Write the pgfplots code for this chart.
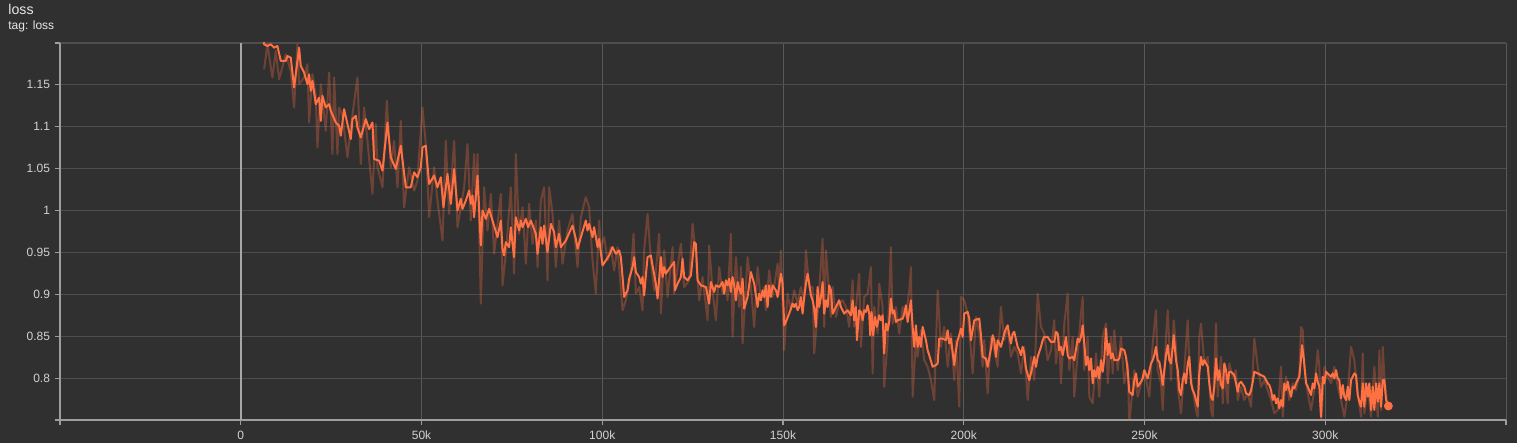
\documentclass[border=0pt]{standalone}
\usepackage{fontspec}
\setmainfont{Liberation Sans}
\usepackage{pgfplots}
\pgfplotsset{compat=1.18}
\definecolor{bg}{HTML}{303030}
\definecolor{hgrid}{HTML}{4D4D4D}
\definecolor{vgrid}{HTML}{595959}
\definecolor{axcol}{HTML}{9E9E9E}
\definecolor{zerocol}{HTML}{A6A6A6}
\definecolor{lbl}{HTML}{D2D2D2}
\definecolor{ttl}{HTML}{E8E8E8}
\definecolor{orng}{HTML}{FF7043}
\begin{document}
\begin{tikzpicture}
\path[use as bounding box, fill=bg] (-30pt,-11.5pt) rectangle (728.5pt,210pt);
\node[anchor=base west, inner sep=0pt, text=ttl, font=\fontsize{7.1}{8}\selectfont] at (-26pt,202.5pt) {loss};
\node[anchor=base west, inner sep=0pt, text=ttl, font=\fontsize{6}{7}\selectfont] at (-26pt,195.2pt) {tag: loss};
\begin{axis}[
  at={(0pt,0pt)}, anchor=south west,
  scale only axis, width=723pt, height=188.5pt,
  xmin=-50, xmax=350, ymin=0.75, ymax=1.2,
  axis x line*=bottom, axis y line*=left,
  axis line style={axcol, line width=0.8pt},
  xtick={-50,50,100,150,200,250,300,350},
  xticklabels={,50k,100k,150k,200k,250k,300k,},
  extra x ticks={0}, extra x tick labels={0},
  extra x tick style={grid=major, major grid style={zerocol, line width=0.8pt}, x grid style={zerocol, line width=0.8pt}},
  ytick={0.75,0.8,0.85,0.9,0.95,1,1.05,1.1,1.15,1.2},
  yticklabels={,0.8,0.85,0.9,0.95,1,1.05,1.1,1.15,},
  grid=major,
  x grid style={vgrid, line width=0.5pt},
  y grid style={hgrid, line width=0.6pt},
  tick align=outside, major tick length=2.5pt,
  tick style={axcol, line width=0.6pt},
  tick label style={font=\fontsize{6}{7}\selectfont, text=lbl},
  xticklabel style={anchor=north, inner sep=0pt},
  yticklabel style={anchor=east, inner sep=0pt},
  xticklabel shift=2.8pt, yticklabel shift=2.3pt,
  clip=true,
]
\addplot[orng, opacity=0.3, line width=1pt, line join=round] coordinates {
(6.46,1.1687) (7.38,1.1985) (8.76,1.1587) (9.68,1.1905) (10.61,1.1567) (12.45,1.1865) (13.83,1.1667) (14.76,1.1230) (15.68,1.1985) (16.14,1.1508)
(17.53,1.1587) (18.45,1.1746) (18.91,1.1051) (19.83,1.1627) (20.75,1.1389) (21.21,1.0754) (22.14,1.1508) (23.52,1.0952) (24.45,1.1647) (25.36,1.0675)
(25.83,1.1587) (26.75,1.0675) (27.21,1.1230) (28.13,1.1131) (29.52,1.0635) (30.44,1.0992) (32.28,1.1587) (33.20,1.0556) (34.13,1.1230) (35.05,1.0833)
(36.43,1.0199) (37.36,1.1032) (37.82,1.0516) (39.21,1.0278) (40.40,1.1310) (41.51,1.0516) (42.42,1.0833) (43.36,1.0278) (44.27,1.1071) (45.19,1.0040)
(46.57,1.0516) (47.96,1.0238) (48.89,1.0357) (49.34,1.0675) (50.27,1.1230) (51.19,1.0794) (52.11,0.9920) (53.49,1.0516) (54.42,1.0119) (55.81,0.9643)
(56.72,1.0833) (57.64,0.9960) (59.03,1.0833) (59.96,0.9801) (61.80,1.0278) (62.72,1.0794) (63.64,0.9881) (64.55,1.0675) (65.02,1.0119) (65.50,1.0675)
(66.41,0.8889) (67.32,1.0278) (68.26,0.9762) (69.18,1.0199) (70.09,0.9484) (71.03,0.9841) (71.94,1.0199) (72.41,0.9107) (73.33,0.9484) (74.71,1.0278)
(75.62,0.9246) (76.09,1.0675) (77.01,0.9722) (77.95,1.0040) (78.86,0.9365) (79.77,1.0080) (80.71,0.9603) (81.63,0.9881) (82.10,0.9325) (83.01,1.0119)
(83.92,1.0278) (84.86,0.9167) (85.31,1.0278) (86.25,0.9960) (87.16,0.9325) (88.07,0.9881) (89.01,0.9365) (90.40,0.9762) (91.78,0.9960) (93.16,0.9325)
(94.08,0.9920) (95.46,1.0159) (96.38,1.0040) (97.31,0.9405) (98.23,0.9008) (99.14,0.9881) (99.61,0.9563) (100.53,0.9682) (101.47,0.9405) (102.38,0.9563)
(103.29,0.9286) (104.23,0.9563) (105.62,0.8810) (106.53,0.8929) (107.91,0.9246) (108.66,0.9722) (109.30,0.9008) (110.21,0.9087) (111.15,0.8810) (111.59,0.9524)
(112.53,0.9960) (113.45,0.9405) (114.37,0.9048) (115.75,0.9722) (116.22,0.8770) (117.13,0.9524) (118.07,0.8968) (119.46,0.9563) (119.90,0.9008) (120.84,0.9325)
(121.75,0.9603) (122.66,0.9087) (124.05,0.9167) (124.98,0.9841) (125.90,0.9484) (126.81,0.8929) (127.75,0.9206) (129.14,0.8690) (129.58,0.9583) (130.52,0.9048)
(131.43,0.8690) (132.35,0.9325) (133.29,0.9008) (134.20,0.9087) (134.67,0.8929) (135.58,0.9722) (136.05,0.8492) (136.97,0.9444) (137.88,0.8849) (138.35,0.9325)
(138.82,0.8413) (139.73,0.9087) (140.20,0.9444) (141.12,0.9087) (142.03,0.8611) (142.97,0.9325) (143.88,0.8929) (144.80,0.9087) (145.27,0.8810) (146.18,0.9286)
(147.12,0.8968) (148.51,0.9365) (148.95,0.9008) (149.42,0.9524) (150.33,0.8333) (151.27,0.9008) (152.19,0.8810) (153.10,0.9048) (154.04,0.8889) (154.95,0.9087)
(155.87,0.8929) (156.34,0.9524) (157.25,0.9087) (158.19,0.9087) (158.63,0.8294) (159.57,0.8770) (160.96,0.9663) (161.40,0.8611) (161.87,0.9524) (162.78,0.9008)
(163.25,0.8730) (163.72,0.9087) (164.64,0.8730) (165.55,0.8889) (166.49,0.8929) (167.41,0.8849) (168.33,0.8611) (169.26,0.9167) (169.70,0.8611) (171.08,0.9246)
(171.55,0.8373) (172.47,0.8968) (173.41,0.9008) (174.32,0.9325) (174.79,0.8056) (175.24,0.8849) (176.18,0.8532) (176.62,0.9127) (177.56,0.8849) (178.00,0.7897)
(178.94,0.8452) (179.85,0.9563) (180.32,0.8651) (181.24,0.8849) (182.15,0.8532) (183.09,0.8849) (184.01,0.8730) (184.92,0.9048) (185.39,0.9325) (185.86,0.7778)
(186.77,0.8452) (187.24,0.8254) (188.16,0.8571) (189.07,0.8214) (190.01,0.8135) (190.92,0.7976) (191.84,0.7738) (192.78,0.9048) (193.69,0.8373) (194.61,0.8611)
(195.55,0.8135) (196.46,0.8532) (197.37,0.7976) (197.84,0.8452) (198.76,0.7659) (199.23,0.8968) (200.14,0.8929) (201.08,0.8770) (201.99,0.8333) (202.46,0.8056)
(203.38,0.8730) (204.29,0.8532) (205.23,0.8135) (205.67,0.8452) (206.61,0.7817) (207.53,0.8492) (208.44,0.8333) (209.38,0.8135) (210.29,0.8849) (211.21,0.8452)
(212.15,0.8611) (213.06,0.8254) (213.97,0.8373) (214.91,0.8294) (215.83,0.8056) (216.74,0.8373) (217.68,0.7738) (218.59,0.8254) (219.51,0.7976) (220.45,0.9008)
(221.36,0.8611) (222.27,0.8532) (223.19,0.8214) (224.13,0.8333) (225.04,0.8690) (225.51,0.8175) (226.42,0.8492) (226.89,0.7937) (227.81,0.8651) (228.75,0.9008)
(229.19,0.8095) (230.13,0.8492) (230.57,0.7778) (231.52,0.8294) (232.43,0.8770) (232.90,0.8968) (233.34,0.8095) (234.28,0.8492) (234.73,0.7778) (235.67,0.7698)
(236.58,0.8294) (237.49,0.7778) (238.43,0.8492) (239.35,0.8651) (239.82,0.7937) (240.73,0.8492) (241.20,0.8056) (241.64,0.8571) (242.58,0.8095) (243.50,0.8492)
(244.41,0.7937) (245.35,0.8175) (245.79,0.7450) (247.18,0.8095) (248.12,0.7778) (249.03,0.7937) (249.94,0.8095) (251.33,0.7778) (252.27,0.8413) (253.18,0.8810)
(253.65,0.8095) (254.57,0.7937) (255.04,0.7619) (255.95,0.8492) (256.42,0.8810) (257.33,0.7976) (258.08,0.8690) (258.72,0.8373) (259.19,0.7897) (260.10,0.7579)
(261.01,0.8095) (261.95,0.8690) (262.40,0.8175) (263.34,0.7857) (264.25,0.7619) (264.72,0.7539) (265.16,0.8492) (265.63,0.8651) (266.55,0.8175) (267.49,0.8254)
(268.40,0.7619) (268.87,0.7539) (269.78,0.8651) (270.25,0.7778) (271.17,0.8254) (271.64,0.7698) (272.08,0.8095) (273.02,0.7698) (273.46,0.8175) (274.38,0.8016)
(275.29,0.8095) (275.80,0.7738) (276.70,0.7897) (277.61,0.7738) (278.56,0.7817) (279.47,0.7659) (280.38,0.8472) (281.32,0.8135) (282.24,0.7897) (283.15,0.7976)
(284.09,0.7857) (285.00,0.7738) (285.92,0.7579) (286.86,0.7619) (287.77,0.8135) (288.24,0.7539) (289.15,0.8016) (290.07,0.7738) (291.01,0.7937) (291.92,0.7857)
(292.83,0.8056) (293.30,0.8611) (293.77,0.8571) (294.22,0.8135) (295.16,0.7817) (296.07,0.7619) (296.98,0.7857) (297.92,0.8333) (298.37,0.8135) (298.84,0.7450)
(299.75,0.8135) (300.69,0.8016) (301.60,0.7937) (302.51,0.8135) (303.45,0.7897) (304.37,0.7738) (305.28,0.7539) (306.22,0.7817) (307.13,0.8373) (308.04,0.8214)
(308.99,0.7817) (309.90,0.7539) (310.37,0.8294) (310.81,0.7579) (311.76,0.7897) (312.67,0.7539) (313.58,0.8135) (314.53,0.7539) (314.97,0.8333) (315.44,0.7619)
(315.91,0.8373) (316.35,0.8016) (317.28,0.7619)
};
\addplot[orng, line width=1pt, line join=round] coordinates {
(6.00,1.2100) (6.46,1.1985) (7.38,1.1964) (8.30,1.1985) (9.22,1.1944) (10.15,1.1964) (11.07,1.1786) (12.45,1.1786) (12.91,1.1845) (13.83,1.1825)
(14.76,1.1468) (15.22,1.1627) (16.14,1.1944) (16.60,1.1726) (17.53,1.1647) (18.45,1.1508) (18.91,1.1627) (19.37,1.1429) (19.83,1.1548) (20.75,1.1270)
(21.68,1.1349) (22.14,1.1071) (22.60,1.1369) (23.52,1.1230) (24.45,1.1270) (24.90,1.1190) (26.29,1.1051) (27.21,1.1012) (27.67,1.0893) (28.59,1.1210)
(29.52,1.1032) (30.44,1.0853) (30.90,1.1091) (31.82,1.1131) (32.28,1.0992) (33.20,1.0873) (34.59,1.1091) (35.51,1.0972) (36.43,1.1051) (36.89,1.0615)
(38.27,1.0595) (39.21,1.0476) (40.58,1.1051) (41.51,1.0635) (42.89,1.0496) (44.27,1.0774) (45.66,1.0278) (47.04,1.0278) (47.96,1.0456) (48.89,1.0397)
(49.81,1.0516) (50.27,1.0754) (51.19,1.0774) (52.11,1.0317) (53.49,1.0417) (54.42,1.0278) (55.34,1.0397) (56.08,1.0040) (57.19,1.0437) (58.11,1.0080)
(59.03,1.0496) (59.96,1.0000) (60.87,1.0139) (61.34,1.0020) (62.26,1.0119) (63.17,1.0238) (63.64,1.0080) (64.11,1.0179) (64.55,0.9920) (65.50,1.0417)
(66.41,0.9583) (66.88,1.0000) (67.79,0.9901) (68.71,1.0020) (69.64,0.9881) (71.03,0.9682) (71.94,0.9881) (72.41,0.9544) (72.86,0.9464) (73.33,0.9623)
(74.24,0.9563) (74.71,0.9801) (75.18,0.9603) (75.62,0.9444) (76.09,0.9920) (77.01,0.9762) (77.48,0.9881) (77.95,0.9801) (78.86,0.9901) (79.50,0.9801)
(80.24,0.9881) (81.63,0.9722) (82.10,0.9484) (83.01,0.9801) (83.48,0.9603) (83.92,0.9821) (84.86,0.9504) (85.78,0.9841) (86.69,0.9742) (87.16,0.9563)
(88.07,0.9722) (88.54,0.9563) (89.93,0.9643) (91.78,0.9821) (92.69,0.9663) (93.16,0.9544) (94.08,0.9682) (95.46,0.9881) (95.93,0.9762) (96.38,0.9841)
(97.31,0.9682) (97.76,0.9801) (98.70,0.9563) (99.14,0.9663) (100.08,0.9345) (101.00,0.9405) (101.91,0.9464) (102.85,0.9563) (103.76,0.9484) (104.68,0.9524)
(105.15,0.9444) (105.62,0.9206) (106.06,0.8968) (107.00,0.9048) (107.44,0.9187) (108.38,0.9325) (108.83,0.9444) (109.30,0.9266) (110.21,0.9206) (110.68,0.9127)
(111.15,0.9206) (111.59,0.8988) (112.06,0.9226) (112.53,0.9444) (113.45,0.9464) (113.91,0.9345) (114.83,0.9127) (115.30,0.8949) (116.22,0.9444) (116.68,0.9206)
(117.13,0.9325) (117.60,0.9246) (118.51,0.9306) (119.90,0.9385) (120.09,0.9048) (120.84,0.9127) (121.75,0.9206) (122.22,0.9425) (122.66,0.9206) (123.60,0.9167)
(124.52,0.9226) (125.43,0.9623) (125.90,0.9603) (126.37,0.9167) (127.28,0.9107) (128.67,0.9087) (129.58,0.8889) (130.05,0.9147) (130.96,0.9028) (131.43,0.9107)
(132.35,0.9087) (133.29,0.9147) (133.73,0.9008) (134.20,0.9167) (134.67,0.9107) (135.11,0.9187) (135.58,0.9028) (136.05,0.9206) (136.50,0.9107) (136.97,0.8929)
(137.44,0.9147) (137.88,0.9067) (138.35,0.9008) (138.82,0.9187) (139.26,0.8829) (140.20,0.8968) (141.12,0.9266) (142.03,0.9127) (142.97,0.8849) (143.41,0.9008)
(143.88,0.8929) (144.35,0.9048) (144.80,0.8968) (145.27,0.9107) (145.74,0.8849) (146.18,0.9107) (146.65,0.8968) (147.12,0.9107) (148.04,0.9048) (148.51,0.8968)
(149.42,0.9246) (149.89,0.9127) (150.33,0.8631) (150.80,0.8671) (151.72,0.8770) (152.66,0.8889) (153.10,0.8849) (153.57,0.8889) (154.04,0.8810) (154.48,0.8849)
(154.95,0.8968) (155.42,0.8770) (155.87,0.8968) (156.34,0.9127) (156.81,0.9246) (157.25,0.9127) (157.72,0.8988) (158.19,0.8929) (158.63,0.8829) (159.10,0.8611)
(159.57,0.9087) (160.02,0.8849) (160.49,0.8968) (160.96,0.9147) (161.40,0.8770) (161.87,0.8929) (162.34,0.8849) (162.78,0.9107) (163.25,0.9048) (163.72,0.8770)
(164.64,0.8849) (165.55,0.8929) (166.02,0.8849) (166.94,0.8770) (167.86,0.8810) (168.79,0.8750) (169.26,0.8929) (169.70,0.8690) (170.17,0.8849) (170.45,0.8452)
(171.08,0.8810) (171.55,0.8790) (172.02,0.8690) (172.47,0.8810) (172.94,0.8790) (173.41,0.8869) (173.85,0.8770) (174.13,0.8512) (174.51,0.8790) (174.96,0.8512)
(175.43,0.8730) (175.98,0.8611) (176.62,0.8750) (177.09,0.8690) (177.56,0.8750) (178.00,0.8294) (178.47,0.8651) (178.94,0.8571) (179.38,0.8670) (179.85,0.8949)
(180.32,0.8770) (180.77,0.8810) (181.24,0.8670) (181.71,0.8690) (183.09,0.8710) (183.54,0.8770) (184.01,0.8869) (184.48,0.8670) (185.39,0.8929) (185.86,0.8611)
(186.31,0.8373) (186.77,0.8631) (187.24,0.8373) (187.69,0.8492) (188.16,0.8373) (188.63,0.8611) (189.54,0.8452) (190.01,0.8333) (190.45,0.8274) (191.39,0.8135)
(192.31,0.8155) (192.78,0.8175) (193.22,0.8472) (194.16,0.8472) (195.08,0.8452) (195.55,0.8571) (195.99,0.8413) (196.46,0.8472) (197.37,0.8155) (197.84,0.8333)
(198.31,0.8452) (198.76,0.8512) (199.23,0.8591) (199.70,0.8492) (200.14,0.8770) (201.08,0.8790) (201.52,0.8710) (201.99,0.8452) (202.91,0.8690) (204.29,0.8710)
(204.76,0.8512) (205.23,0.8254) (206.14,0.8234) (206.61,0.8135) (207.53,0.8353) (208.00,0.8512) (208.44,0.8452) (208.91,0.8254) (209.38,0.8452) (210.29,0.8373)
(211.21,0.8532) (211.68,0.8591) (212.15,0.8631) (212.59,0.8512) (213.06,0.8413) (213.53,0.8532) (213.97,0.8552) (214.91,0.8373) (215.36,0.8333) (215.83,0.8274)
(216.30,0.8373) (216.74,0.8294) (217.21,0.8115) (218.13,0.7976) (218.59,0.8056) (219.06,0.8155) (219.51,0.8254) (219.98,0.8135) (220.45,0.8254) (221.36,0.8373)
(221.83,0.8452) (222.27,0.8492) (223.19,0.8492) (224.13,0.8432) (225.04,0.8432) (225.51,0.8552) (225.98,0.8532) (226.42,0.8333) (226.89,0.8373) (227.36,0.8274)
(227.81,0.8373) (228.28,0.8492) (228.75,0.8274) (229.19,0.8234) (230.13,0.8254) (230.57,0.8214) (231.52,0.8472) (231.96,0.8432) (232.43,0.8492) (232.90,0.8631)
(233.34,0.8413) (233.81,0.8155) (234.28,0.8254) (234.73,0.8095) (235.20,0.8234) (235.67,0.7937) (236.11,0.8095) (236.58,0.8016) (237.05,0.8135) (237.49,0.7996)
(237.96,0.8214) (238.43,0.8075) (238.88,0.8234) (239.35,0.8591) (239.82,0.8274) (240.26,0.8413) (240.73,0.8234) (241.20,0.8294) (241.64,0.8214) (242.58,0.8214)
(243.03,0.8234) (243.50,0.8353) (244.41,0.8333) (244.88,0.8254) (245.35,0.8095) (245.79,0.7837) (246.73,0.7798) (247.18,0.7976) (247.65,0.8056) (248.12,0.7897)
(249.03,0.7956) (249.50,0.7996) (249.94,0.8095) (250.88,0.7996) (251.80,0.8175) (252.27,0.8214) (252.71,0.8274) (253.18,0.8373) (253.65,0.8214) (254.10,0.8194)
(254.57,0.8075) (255.04,0.7917) (255.48,0.8095) (255.95,0.8274) (256.42,0.8393) (256.86,0.8214) (257.33,0.8175) (257.80,0.8373) (258.08,0.8512) (258.72,0.8214)
(259.19,0.8095) (259.63,0.7857) (260.10,0.7798) (260.57,0.7976) (261.01,0.8056) (261.48,0.7937) (261.95,0.8175) (262.40,0.8254) (262.87,0.7937) (263.34,0.7857)
(263.78,0.7817) (264.25,0.7738) (264.72,0.7659) (265.16,0.8056) (265.63,0.8254) (266.10,0.8155) (266.55,0.8214) (267.49,0.8135) (267.93,0.7937) (268.40,0.7778)
(268.87,0.7738) (269.31,0.7897) (269.78,0.8234) (270.25,0.7976) (270.70,0.8095) (271.17,0.7917) (271.64,0.7877) (272.08,0.8175) (272.55,0.8095) (273.02,0.7937)
(273.46,0.8075) (273.93,0.8075) (274.85,0.8036) (275.80,0.7837) (276.23,0.7937) (276.70,0.7956) (277.61,0.7897) (278.09,0.7817) (279.00,0.7798) (279.47,0.7857)
(279.94,0.7956) (280.38,0.8075) (281.32,0.8056) (282.24,0.8036) (283.15,0.8016) (283.62,0.7976) (284.09,0.7937) (284.53,0.7917) (285.00,0.7857) (285.47,0.7738)
(285.92,0.7798) (286.39,0.7698) (286.86,0.7758) (287.30,0.7639) (287.77,0.7738) (288.24,0.7659) (288.68,0.7937) (289.15,0.7857) (289.62,0.7956) (290.07,0.7857)
(290.54,0.7778) (291.01,0.7897) (291.45,0.7877) (291.92,0.7937) (292.83,0.8016) (293.30,0.8234) (293.58,0.8393) (294.05,0.8234) (294.69,0.7937) (295.16,0.7897)
(296.07,0.7798) (296.54,0.7937) (296.98,0.7877) (297.45,0.8056) (297.92,0.7956) (298.37,0.7897) (298.84,0.7539) (299.31,0.8016) (299.75,0.7937) (300.22,0.8075)
(300.69,0.8056) (301.13,0.8036) (301.60,0.8016) (302.07,0.8056) (302.51,0.7996) (302.98,0.8095) (303.45,0.7996) (303.90,0.7976) (304.37,0.7758) (304.84,0.7917)
(305.28,0.7778) (305.75,0.7738) (306.22,0.7897) (306.66,0.7738) (307.13,0.7976) (307.60,0.8016) (308.04,0.8056) (308.52,0.8036) (308.99,0.7798) (309.43,0.7718)
(309.90,0.7659) (310.37,0.7937) (310.81,0.7659) (311.29,0.7937) (311.76,0.7778) (312.20,0.7937) (312.67,0.7619) (313.14,0.7897) (313.58,0.7619) (314.06,0.7937)
(314.53,0.7718) (314.97,0.7937) (315.44,0.7659) (315.91,0.7976) (316.35,0.7976) (316.82,0.7738) (317.46,0.7667)
};
\addplot[only marks, mark=*, mark size=2pt, color=orng] coordinates {(317.46,0.7667)};
\end{axis}
\end{tikzpicture}
\end{document}
